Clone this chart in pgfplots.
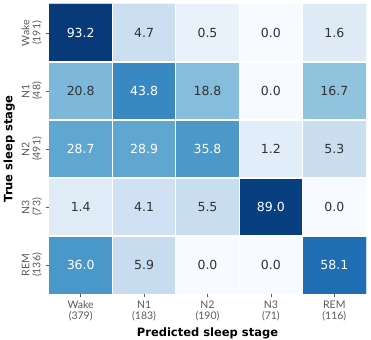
\documentclass[border=0pt]{standalone}
\usepackage{pgfplots}
\pgfplotsset{compat=1.18}
\usepackage{fontspec}
\setmainfont{Lato}
\newfontfamily\dejavu{DejaVu Sans}
\definecolor{txtdark}{gray}{0.2}
\definecolor{tickgray}{gray}{0.35}
\newcommand\cellval[1]{\ifdim#1pt>25pt\color{white}\else\color{txtdark}\fi#1}
\begin{document}
\begin{tikzpicture}
\begin{axis}[
  scale only axis, width=317pt, height=290pt,
  xmin=-0.5, xmax=4.5, ymin=-0.5, ymax=4.5, y dir=reverse,
  colormap={blues}{rgb255=(247,251,255) rgb255=(222,235,247) rgb255=(198,219,239) rgb255=(158,202,225) rgb255=(107,174,214) rgb255=(66,146,198) rgb255=(33,113,181) rgb255=(8,81,156) rgb255=(8,48,107)},
  point meta min=0, point meta max=10,
  xtick={0,1,2,3,4}, ytick={0,1,2,3,4},
  xticklabels={{Wake\\(379)},{N1\\(183)},{N2\\(190)},{N3\\(71)},{REM\\(116)}},
  yticklabels={{Wake\\(191)},{N1\\(48)},{N2\\(491)},{N3\\(73)},{REM\\(136)}},
  xticklabel style={align=center, font=\fontsize{10.5}{11}\selectfont, text=tickgray},
  yticklabel style={align=center, rotate=90, anchor=south, font=\fontsize{10.5}{11}\selectfont, text=tickgray},
  xtick pos=bottom, ytick pos=left, tick align=outside,
  major tick length=3.5pt, major tick style={tickgray, line width=0.7pt},
  minor xtick={0.5,1.5,2.5,3.5}, minor ytick={0.5,1.5,2.5,3.5},
  minor tick length=0pt,
  xminorgrids, yminorgrids, minor grid style={white, line width=1.3pt},
  axis on top, axis line style={draw=none},
  xlabel={Predicted sleep stage}, ylabel={True sleep stage},
  label style={font=\dejavu\bfseries\fontsize{11.5}{13}\selectfont},
  every node near coord/.append style={anchor=center, font=\dejavu\fontsize{12.5}{14}\selectfont},
]
\addplot[matrix plot*, mesh/cols=5, point meta={sqrt(\thisrow{v})},
  visualization depends on={value \thisrow{v} \as \val},
  nodes near coords={\cellval{\val}}]
table {
x y v
0 0 93.2
1 0 4.7
2 0 0.5
3 0 0.0
4 0 1.6
0 1 20.8
1 1 43.8
2 1 18.8
3 1 0.0
4 1 16.7
0 2 28.7
1 2 28.9
2 2 35.8
3 2 1.2
4 2 5.3
0 3 1.4
1 3 4.1
2 3 5.5
3 3 89.0
4 3 0.0
0 4 36.0
1 4 5.9
2 4 0.0
3 4 0.0
4 4 58.1
};
\end{axis}
\pgfresetboundingbox
\path[use as bounding box] ([xshift=-49pt,yshift=-46pt]current axis.south west) rectangle ([xshift=5pt,yshift=4pt]current axis.north east);
\end{tikzpicture}
\end{document}
